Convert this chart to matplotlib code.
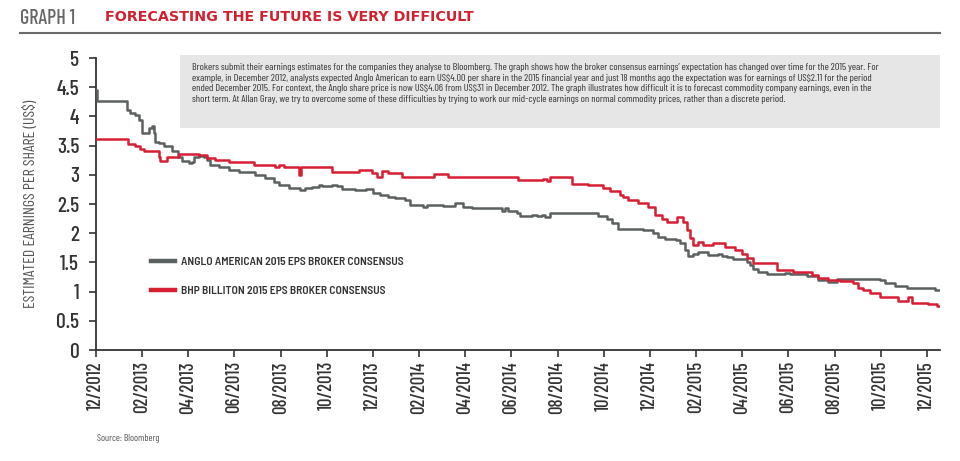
import matplotlib
matplotlib.use("Agg")
import matplotlib.pyplot as plt
from matplotlib.patches import Rectangle

# x values are months elapsed since December 2012
anglo_months = [0.00, 0.06, 1.34, 1.49, 1.69, 1.86, 1.99, 2.28, 2.43, 2.50,
                2.56, 2.72, 2.93, 3.29, 3.55, 3.73, 4.02, 4.16, 4.23, 4.45,
                4.67, 4.81, 4.95, 5.32, 5.75, 6.18, 6.90, 7.34, 7.70, 7.92,
                8.35, 8.85, 9.07, 9.36, 9.65, 9.79, 10.23, 10.44, 10.66, 11.23,
                11.70, 12.00, 12.31, 12.65, 12.95, 13.39, 13.60, 14.17, 14.34, 15.03,
                15.55, 15.90, 16.29, 17.59, 17.72, 17.85, 18.24, 18.37, 18.89, 19.11,
                19.32, 19.45, 19.67, 21.75, 22.14, 22.36, 22.62, 23.70, 24.13, 24.35,
                24.65, 25.13, 25.30, 25.52, 25.65, 25.87, 26.08, 26.52, 26.95, 27.12,
                27.34, 27.60, 28.21, 28.34, 28.47, 28.68, 29.07, 29.85, 30.07, 30.81,
                31.28, 31.72, 32.11, 33.97, 34.19, 34.62, 35.14, 36.35, 36.57]
anglo_eps = [4.45, 4.27, 4.11, 4.05, 4.03, 3.94, 3.71, 3.80, 3.83, 3.71,
             3.57, 3.54, 3.49, 3.40, 3.31, 3.24, 3.20, 3.22, 3.31, 3.33,
             3.30, 3.25, 3.17, 3.14, 3.08, 3.05, 3.00, 2.94, 2.88, 2.83,
             2.78, 2.74, 2.78, 2.79, 2.83, 2.80, 2.83, 2.80, 2.76, 2.74,
             2.76, 2.68, 2.65, 2.62, 2.60, 2.57, 2.49, 2.45, 2.49, 2.47,
             2.51, 2.45, 2.43, 2.38, 2.43, 2.38, 2.34, 2.30, 2.32, 2.29,
             2.32, 2.28, 2.34, 2.30, 2.25, 2.17, 2.08, 2.05, 2.00, 1.94,
             1.90, 1.88, 1.83, 1.71, 1.61, 1.64, 1.67, 1.63, 1.65, 1.61,
             1.59, 1.55, 1.51, 1.46, 1.38, 1.34, 1.30, 1.31, 1.30, 1.27,
             1.20, 1.17, 1.22, 1.20, 1.14, 1.09, 1.06, 1.03, 1.03]

bhp_months = [0.00, 1.39, 1.69, 1.91, 2.08, 2.73, 2.79, 3.08, 3.60, 4.46,
              4.81, 5.16, 5.76, 6.85, 7.76, 7.92, 8.13, 8.78, 8.88, 10.23,
              11.38, 11.96, 12.18, 12.39, 12.65, 13.26, 14.64, 15.25, 18.28, 19.37,
              19.54, 19.67, 20.62, 21.32, 21.97, 22.27, 22.70, 22.83, 23.05, 23.48,
              23.92, 24.22, 24.52, 24.74, 25.17, 25.43, 25.61, 25.74, 25.87, 26.08,
              26.30, 26.73, 27.25, 27.69, 27.99, 28.21, 28.47, 29.51, 30.20, 31.02,
              31.28, 31.72, 32.24, 32.80, 33.02, 33.23, 33.54, 33.97, 34.75, 35.18,
              35.36, 36.05, 36.44, 36.57]
bhp_eps = [3.61, 3.53, 3.49, 3.45, 3.40, 3.31, 3.24, 3.31, 3.36, 3.34,
           3.29, 3.26, 3.22, 3.17, 3.14, 3.16, 3.13, 3.00, 3.13, 3.05,
           3.08, 3.03, 2.97, 3.07, 3.03, 2.96, 3.01, 2.96, 2.91, 2.93,
           2.90, 2.97, 2.85, 2.83, 2.77, 2.72, 2.65, 2.62, 2.57, 2.51,
           2.45, 2.31, 2.24, 2.20, 2.27, 2.19, 2.05, 1.91, 1.80, 1.85,
           1.80, 1.84, 1.77, 1.71, 1.65, 1.57, 1.49, 1.37, 1.34, 1.28,
           1.23, 1.20, 1.18, 1.14, 1.06, 1.02, 0.97, 0.90, 0.84, 0.90,
           0.81, 0.79, 0.75, 0.75]

tick_months = list(range(0, 37, 2))
tick_labels = ["%02d/%d" % ((11 + m) % 12 + 1, 2012 + (11 + m) // 12) for m in tick_months]
y_ticks = [0, 0.5, 1, 1.5, 2, 2.5, 3, 3.5, 4, 4.5, 5]

NOTE = (
    "Brokers submit their earnings estimates for the companies they analyse to Bloomberg. "
    "The graph shows how the broker consensus earnings\u2019 expectation has changed over time for the 2015 year. For\n"
    "example, in December 2012, analysts expected Anglo American to earn US\\$4.00 per share in the 2015 "
    "financial year and just 18 months ago the expectation was for earnings of US\\$2.11 for the period\n"
    "ended December 2015. For context, the Anglo share price is now US\\$4.06 from US\\$31 in December 2012. "
    "The graph illustrates how difficult it is to forecast commodity company earnings, even in the\n"
    "short term. At Allan Gray, we try to overcome some of these difficulties by trying to work our "
    "mid-cycle earnings on normal commodity prices, rather than a discrete period."
)

GREY = "#5b6061"
RED = "#d71f34"
TEXT = "#333333"
COND = ["Barlow Condensed", "DejaVu Sans"]
SEMI = ["Barlow Semi Condensed", "DejaVu Sans"]

plt.rcParams["font.family"] = COND

W, H = 960, 461
fig = plt.figure(figsize=(W / 100, H / 100), dpi=100)

# header
fig.text(20 / W, 1 - 18 / H, "GRAPH 1", color="#666666", fontsize=14.5, fontweight=500,
         va="center", ha="left")
fig.text(105 / W, 1 - 17 / H, "FORECASTING THE FUTURE IS VERY DIFFICULT", color="#d2202f",
         fontsize=10.3, fontweight="bold", family="DejaVu Sans", va="center", ha="left")
fig.add_artist(plt.Line2D([20 / W, 940 / W], [1 - 33 / H, 1 - 33 / H], color="#6a6a6a", linewidth=1.5))

ax = fig.add_axes([96 / W, 1 - 350 / H, (940 - 96) / W, (350 - 58) / H])

ax.step(anglo_months, anglo_eps, where="post", color=GREY, linewidth=1.8,
        label="ANGLO AMERICAN 2015 EPS BROKER CONSENSUS", zorder=3)
ax.step(bhp_months, bhp_eps, where="post", color=RED, linewidth=1.8,
        label="BHP BILLITON 2015 EPS BROKER CONSENSUS", zorder=3)

ax.set_xlim(0, 36.57)
ax.set_ylim(0, 5)
ax.set_xticks(tick_months)
ax.set_xticklabels(tick_labels, rotation=90, fontsize=13.5, fontweight=500, color=TEXT)
ax.set_yticks(y_ticks)
ax.set_yticklabels(["%g" % v for v in y_ticks], fontsize=15.5, fontweight=500, color=TEXT)
ax.tick_params(direction="out", length=5, width=1.2, color="#333333")
ax.tick_params(axis="y", pad=7)
ax.tick_params(axis="x", pad=3)
for side in ("top", "right"):
    ax.spines[side].set_visible(False)
for side in ("left", "bottom"):
    ax.spines[side].set_color("#333333")
    ax.spines[side].set_linewidth(1.3)

ax.set_ylabel("ESTIMATED EARNINGS PER SHARE (US\\$)", fontsize=11.5, color="#555555", labelpad=13)

leg = ax.legend(loc="upper left", bbox_to_anchor=(50 / (940 - 96), 1 - (252 - 58) / 292),
                frameon=False, prop={"family": SEMI, "size": 8.3, "weight": 600},
                handlelength=2.1, handletextpad=0.5, labelspacing=1.7, borderaxespad=0)
for t in leg.get_texts():
    t.set_color(TEXT)
for h in leg.get_lines():
    h.set_linewidth(3.2)

# note box
fig.add_artist(Rectangle((180 / W, 1 - 128 / H), (940 - 180) / W, (128 - 55) / H,
                         transform=fig.transFigure, facecolor="#e6e6e6", edgecolor="none", zorder=1))
fig.text(192 / W, 1 - 63 / H, NOTE, fontsize=7.4, color="#333333", va="top", ha="left",
         linespacing=1.2, zorder=2)

fig.text(97 / W, 1 - 438 / H, "Source: Bloomberg", fontsize=7, color="#555555", va="center")

fig.savefig("out.png", dpi=100)
